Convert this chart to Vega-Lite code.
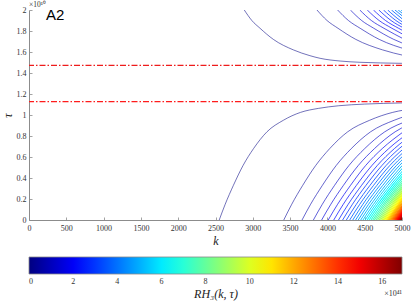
{
"$schema":"https://vega.github.io/schema/vega-lite/v6.json",
"width":373,"height":210,
"autosize":{"type":"none"},
"padding":{"left":29,"top":10,"right":9,"bottom":83},
"background":"white",
"config":{"view":{"stroke":null},"axis":{"labelOverlap":false,"labelFlush":false,"grid":false}},
"layer":[
{"data":{"values":[
{"c":"L0","k":2550,"t":0,"v":0.02},{"c":"L0","k":2630,"t":0.15,"v":0.02},{"c":"L0","k":2740,"t":0.33,"v":0.02},{"c":"L0","k":2870,"t":0.52,"v":0.02},{"c":"L0","k":3010,"t":0.68,"v":0.02},{"c":"L0","k":3190,"t":0.84,"v":0.02},{"c":"L0","k":3410,"t":0.95,"v":0.02},{"c":"L0","k":3640,"t":1.025,"v":0.02},{"c":"L0","k":3880,"t":1.063,"v":0.02},{"c":"L0","k":4150,"t":1.088,"v":0.02},{"c":"L0","k":4500,"t":1.104,"v":0.02},{"c":"L0","k":5000,"t":1.115,"v":0.02},{"c":"L0","k":5100,"t":1.117,"v":0.02},
{"c":"L1","k":3415,"t":0,"v":0.368},{"c":"L1","k":3522,"t":0.15,"v":0.368},{"c":"L1","k":3669,"t":0.33,"v":0.368},{"c":"L1","k":3844,"t":0.52,"v":0.368},{"c":"L1","k":4031,"t":0.68,"v":0.368},{"c":"L1","k":4272,"t":0.84,"v":0.368},{"c":"L1","k":4567,"t":0.95,"v":0.368},{"c":"L1","k":4875,"t":1.025,"v":0.368},{"c":"L1","k":5196,"t":1.063,"v":0.368},
{"c":"L2","k":3660,"t":0,"v":0.736},{"c":"L2","k":3775,"t":0.15,"v":0.736},{"c":"L2","k":3933,"t":0.33,"v":0.736},{"c":"L2","k":4119,"t":0.52,"v":0.736},{"c":"L2","k":4320,"t":0.68,"v":0.736},{"c":"L2","k":4579,"t":0.84,"v":0.736},{"c":"L2","k":4895,"t":0.95,"v":0.736},{"c":"L2","k":5225,"t":1.025,"v":0.736},
{"c":"L3","k":3812,"t":0,"v":1.104},{"c":"L3","k":3932,"t":0.15,"v":1.104},{"c":"L3","k":4096,"t":0.33,"v":1.104},{"c":"L3","k":4290,"t":0.52,"v":1.104},{"c":"L3","k":4500,"t":0.68,"v":1.104},{"c":"L3","k":4769,"t":0.84,"v":1.104},{"c":"L3","k":5098,"t":0.95,"v":1.104},
{"c":"L4","k":3923,"t":0,"v":1.472},{"c":"L4","k":4046,"t":0.15,"v":1.472},{"c":"L4","k":4215,"t":0.33,"v":1.472},{"c":"L4","k":4415,"t":0.52,"v":1.472},{"c":"L4","k":4631,"t":0.68,"v":1.472},{"c":"L4","k":4908,"t":0.84,"v":1.472},{"c":"L4","k":5246,"t":0.95,"v":1.472},
{"c":"L5","k":4011,"t":0,"v":1.84},{"c":"L5","k":4137,"t":0.15,"v":1.84},{"c":"L5","k":4310,"t":0.33,"v":1.84},{"c":"L5","k":4514,"t":0.52,"v":1.84},{"c":"L5","k":4735,"t":0.68,"v":1.84},{"c":"L5","k":5018,"t":0.84,"v":1.84},
{"c":"L6","k":4085,"t":0,"v":2.208},{"c":"L6","k":4213,"t":0.15,"v":2.208},{"c":"L6","k":4389,"t":0.33,"v":2.208},{"c":"L6","k":4598,"t":0.52,"v":2.208},{"c":"L6","k":4822,"t":0.68,"v":2.208},{"c":"L6","k":5110,"t":0.84,"v":2.208},
{"c":"L7","k":4149,"t":0,"v":2.576},{"c":"L7","k":4279,"t":0.15,"v":2.576},{"c":"L7","k":4458,"t":0.33,"v":2.576},{"c":"L7","k":4670,"t":0.52,"v":2.576},{"c":"L7","k":4898,"t":0.68,"v":2.576},{"c":"L7","k":5190,"t":0.84,"v":2.576},
{"c":"L8","k":4204,"t":0,"v":2.944},{"c":"L8","k":4336,"t":0.15,"v":2.944},{"c":"L8","k":4517,"t":0.33,"v":2.944},{"c":"L8","k":4732,"t":0.52,"v":2.944},{"c":"L8","k":4962,"t":0.68,"v":2.944},{"c":"L8","k":5259,"t":0.84,"v":2.944},
{"c":"L9","k":4254,"t":0,"v":3.312},{"c":"L9","k":4388,"t":0.15,"v":3.312},{"c":"L9","k":4571,"t":0.33,"v":3.312},{"c":"L9","k":4788,"t":0.52,"v":3.312},{"c":"L9","k":5021,"t":0.68,"v":3.312},
{"c":"L10","k":4299,"t":0,"v":3.68},{"c":"L10","k":4434,"t":0.15,"v":3.68},{"c":"L10","k":4619,"t":0.33,"v":3.68},{"c":"L10","k":4838,"t":0.52,"v":3.68},{"c":"L10","k":5075,"t":0.68,"v":3.68},
{"c":"L11","k":4340,"t":0,"v":4.048},{"c":"L11","k":4476,"t":0.15,"v":4.048},{"c":"L11","k":4663,"t":0.33,"v":4.048},{"c":"L11","k":4885,"t":0.52,"v":4.048},{"c":"L11","k":5123,"t":0.68,"v":4.048},
{"c":"L12","k":4378,"t":0,"v":4.416},{"c":"L12","k":4515,"t":0.15,"v":4.416},{"c":"L12","k":4704,"t":0.33,"v":4.416},{"c":"L12","k":4927,"t":0.52,"v":4.416},{"c":"L12","k":5168,"t":0.68,"v":4.416},
{"c":"L13","k":4413,"t":0,"v":4.784},{"c":"L13","k":4552,"t":0.15,"v":4.784},{"c":"L13","k":4742,"t":0.33,"v":4.784},{"c":"L13","k":4967,"t":0.52,"v":4.784},{"c":"L13","k":5209,"t":0.68,"v":4.784},
{"c":"L14","k":4446,"t":0,"v":5.152},{"c":"L14","k":4586,"t":0.15,"v":5.152},{"c":"L14","k":4777,"t":0.33,"v":5.152},{"c":"L14","k":5004,"t":0.52,"v":5.152},
{"c":"L15","k":4477,"t":0,"v":5.52},{"c":"L15","k":4618,"t":0.15,"v":5.52},{"c":"L15","k":4810,"t":0.33,"v":5.52},{"c":"L15","k":5039,"t":0.52,"v":5.52},
{"c":"L16","k":4506,"t":0,"v":5.888},{"c":"L16","k":4647,"t":0.15,"v":5.888},{"c":"L16","k":4842,"t":0.33,"v":5.888},{"c":"L16","k":5072,"t":0.52,"v":5.888},
{"c":"L17","k":4533,"t":0,"v":6.256},{"c":"L17","k":4675,"t":0.15,"v":6.256},{"c":"L17","k":4871,"t":0.33,"v":6.256},{"c":"L17","k":5102,"t":0.52,"v":6.256},
{"c":"L18","k":4559,"t":0,"v":6.624},{"c":"L18","k":4702,"t":0.15,"v":6.624},{"c":"L18","k":4899,"t":0.33,"v":6.624},{"c":"L18","k":5131,"t":0.52,"v":6.624},
{"c":"L19","k":4584,"t":0,"v":6.992},{"c":"L19","k":4728,"t":0.15,"v":6.992},{"c":"L19","k":4925,"t":0.33,"v":6.992},{"c":"L19","k":5159,"t":0.52,"v":6.992},
{"c":"L20","k":4608,"t":0,"v":7.36},{"c":"L20","k":4753,"t":0.15,"v":7.36},{"c":"L20","k":4951,"t":0.33,"v":7.36},{"c":"L20","k":5186,"t":0.52,"v":7.36},
{"c":"L21","k":4630,"t":0,"v":7.728},{"c":"L21","k":4775,"t":0.15,"v":7.728},{"c":"L21","k":4975,"t":0.33,"v":7.728},{"c":"L21","k":5211,"t":0.52,"v":7.728},
{"c":"L22","k":4652,"t":0,"v":8.096},{"c":"L22","k":4798,"t":0.15,"v":8.096},{"c":"L22","k":4999,"t":0.33,"v":8.096},{"c":"L22","k":5236,"t":0.52,"v":8.096},
{"c":"L23","k":4673,"t":0,"v":8.464},{"c":"L23","k":4820,"t":0.15,"v":8.464},{"c":"L23","k":5021,"t":0.33,"v":8.464},
{"c":"L24","k":4693,"t":0,"v":8.832},{"c":"L24","k":4840,"t":0.15,"v":8.832},{"c":"L24","k":5043,"t":0.33,"v":8.832},
{"c":"L25","k":4712,"t":0,"v":9.2},{"c":"L25","k":4860,"t":0.15,"v":9.2},{"c":"L25","k":5063,"t":0.33,"v":9.2},
{"c":"L26","k":4730,"t":0,"v":9.568},{"c":"L26","k":4879,"t":0.15,"v":9.568},{"c":"L26","k":5082,"t":0.33,"v":9.568},
{"c":"L27","k":4748,"t":0,"v":9.936},{"c":"L27","k":4897,"t":0.15,"v":9.936},{"c":"L27","k":5102,"t":0.33,"v":9.936},
{"c":"L28","k":4765,"t":0,"v":10.304},{"c":"L28","k":4915,"t":0.15,"v":10.304},{"c":"L28","k":5120,"t":0.33,"v":10.304},
{"c":"L29","k":4782,"t":0,"v":10.672},{"c":"L29","k":4932,"t":0.15,"v":10.672},{"c":"L29","k":5138,"t":0.33,"v":10.672},
{"c":"L30","k":4798,"t":0,"v":11.04},{"c":"L30","k":4949,"t":0.15,"v":11.04},{"c":"L30","k":5155,"t":0.33,"v":11.04},
{"c":"L31","k":4813,"t":0,"v":11.408},{"c":"L31","k":4964,"t":0.15,"v":11.408},{"c":"L31","k":5171,"t":0.33,"v":11.408},
{"c":"L32","k":4829,"t":0,"v":11.776},{"c":"L32","k":4981,"t":0.15,"v":11.776},{"c":"L32","k":5189,"t":0.33,"v":11.776},
{"c":"L33","k":4845,"t":0,"v":12.144},{"c":"L33","k":4997,"t":0.15,"v":12.144},{"c":"L33","k":5206,"t":0.33,"v":12.144},
{"c":"L34","k":4859,"t":0,"v":12.512},{"c":"L34","k":5012,"t":0.15,"v":12.512},
{"c":"L35","k":4873,"t":0,"v":12.88},{"c":"L35","k":5026,"t":0.15,"v":12.88},
{"c":"L36","k":4887,"t":0,"v":13.248},{"c":"L36","k":5040,"t":0.15,"v":13.248},
{"c":"L37","k":4900,"t":0,"v":13.616},{"c":"L37","k":5054,"t":0.15,"v":13.616},
{"c":"L38","k":4913,"t":0,"v":13.984},{"c":"L38","k":5067,"t":0.15,"v":13.984},
{"c":"L39","k":4926,"t":0,"v":14.352},{"c":"L39","k":5081,"t":0.15,"v":14.352},
{"c":"L40","k":4938,"t":0,"v":14.72},{"c":"L40","k":5093,"t":0.15,"v":14.72},
{"c":"L41","k":4950,"t":0,"v":15.088},{"c":"L41","k":5106,"t":0.15,"v":15.088},
{"c":"L42","k":4962,"t":0,"v":15.456},{"c":"L42","k":5118,"t":0.15,"v":15.456},
{"c":"L43","k":4973,"t":0,"v":15.824},{"c":"L43","k":5129,"t":0.15,"v":15.824},
{"c":"L44","k":4985,"t":0,"v":16.192},{"c":"L44","k":5142,"t":0.15,"v":16.192},
{"c":"L45","k":4995,"t":0,"v":16.56},{"c":"L45","k":5152,"t":0.15,"v":16.56},
{"c":"U0","k":2886,"t":2.0,"v":0.02},{"c":"U0","k":2987,"t":1.9,"v":0.02},{"c":"U0","k":3097,"t":1.826,"v":0.02},{"c":"U0","k":3276,"t":1.72,"v":0.02},{"c":"U0","k":3544,"t":1.62,"v":0.02},{"c":"U0","k":3766,"t":1.565,"v":0.02},{"c":"U0","k":3902,"t":1.54,"v":0.02},{"c":"U0","k":4170,"t":1.514,"v":0.02},{"c":"U0","k":4436,"t":1.502,"v":0.02},{"c":"U0","k":4996,"t":1.492,"v":0.02},{"c":"U0","k":5100,"t":1.49,"v":0.02},
{"c":"U1","k":3860,"t":2.0,"v":0.368},{"c":"U1","k":3995,"t":1.9,"v":0.368},{"c":"U1","k":4142,"t":1.826,"v":0.368},{"c":"U1","k":4381,"t":1.72,"v":0.368},{"c":"U1","k":4740,"t":1.62,"v":0.368},{"c":"U1","k":5037,"t":1.565,"v":0.368},
{"c":"U2","k":4137,"t":2.0,"v":0.736},{"c":"U2","k":4282,"t":1.9,"v":0.736},{"c":"U2","k":4439,"t":1.826,"v":0.736},{"c":"U2","k":4695,"t":1.72,"v":0.736},{"c":"U2","k":5080,"t":1.62,"v":0.736},
{"c":"U3","k":4308,"t":2.0,"v":1.104},{"c":"U3","k":4459,"t":1.9,"v":1.104},{"c":"U3","k":4622,"t":1.826,"v":1.104},{"c":"U3","k":4890,"t":1.72,"v":1.104},{"c":"U3","k":5290,"t":1.62,"v":1.104},
{"c":"U4","k":4434,"t":2.0,"v":1.472},{"c":"U4","k":4589,"t":1.9,"v":1.472},{"c":"U4","k":4758,"t":1.826,"v":1.472},{"c":"U4","k":5033,"t":1.72,"v":1.472},
{"c":"U5","k":4534,"t":2.0,"v":1.84},{"c":"U5","k":4693,"t":1.9,"v":1.84},{"c":"U5","k":4865,"t":1.826,"v":1.84},{"c":"U5","k":5146,"t":1.72,"v":1.84},
{"c":"U6","k":4617,"t":2.0,"v":2.208},{"c":"U6","k":4779,"t":1.9,"v":2.208},{"c":"U6","k":4954,"t":1.826,"v":2.208},{"c":"U6","k":5240,"t":1.72,"v":2.208},
{"c":"U7","k":4689,"t":2.0,"v":2.576},{"c":"U7","k":4853,"t":1.9,"v":2.576},{"c":"U7","k":5031,"t":1.826,"v":2.576},
{"c":"U8","k":4752,"t":2.0,"v":2.944},{"c":"U8","k":4918,"t":1.9,"v":2.944},{"c":"U8","k":5099,"t":1.826,"v":2.944},
{"c":"U9","k":4808,"t":2.0,"v":3.312},{"c":"U9","k":4976,"t":1.9,"v":3.312},{"c":"U9","k":5159,"t":1.826,"v":3.312},
{"c":"U10","k":4859,"t":2.0,"v":3.68},{"c":"U10","k":5029,"t":1.9,"v":3.68},
{"c":"U11","k":4906,"t":2.0,"v":4.048},{"c":"U11","k":5078,"t":1.9,"v":4.048},
{"c":"U12","k":4949,"t":2.0,"v":4.416},{"c":"U12","k":5122,"t":1.9,"v":4.416},
{"c":"U13","k":4988,"t":2.0,"v":4.784},{"c":"U13","k":5163,"t":1.9,"v":4.784}
]},
 "mark":{"type":"line","clip":true,"interpolate":"monotone"},
 "encoding":{
  "x":{"field":"k","type":"quantitative","scale":{"domain":[0,5000],"nice":false,"zero":false},
   "axis":{"values":[0,500,1000,1500,2000,2500,3000,3500,4000,4500,5000],"tickCount":11,"format":"d","tickSize":-3,"tickWidth":0.8,"labelPadding":7,"labelOverlap":false,"domainColor":"#8c8c8c","tickColor":"#8c8c8c","labelFont":"Liberation Serif","labelFontSize":8,"labelColor":"#333333","title":"k","titleFont":"Liberation Serif","titleFontStyle":"italic","titleFontWeight":"normal","titleFontSize":12,"titleColor":"#222222","titlePadding":3}},
  "y":{"field":"t","type":"quantitative","scale":{"domain":[0,2],"nice":false,"zero":false},
   "axis":{"values":[0,0.2,0.4,0.6,0.8,1,1.2,1.4,1.6,1.8,2],"tickCount":11,"format":"~g","tickSize":-3,"tickWidth":0.8,"labelPadding":6,"labelOverlap":false,"domainColor":"#8c8c8c","tickColor":"#8c8c8c","labelFont":"Liberation Serif","labelFontSize":8,"labelColor":"#333333","title":"τ","titleFont":"Liberation Serif","titleFontStyle":"italic","titleFontWeight":"normal","titleFontSize":12,"titleColor":"#222222","titlePadding":2}},
  "detail":{"field":"c","type":"nominal"},
  "order":{"field":"k","type":"quantitative"},
  "strokeWidth":{"field":"v","type":"quantitative","scale":{"domain":[0,6,16.9],"range":[0.55,1.0,1.5]},"legend":null},
  "color":{"field":"v","type":"quantitative",
   "scale":{"domain":[0,2.1125,6.3375,10.5625,14.7875,16.9],"range":["#000080","#0000ff","#00ffff","#ffff00","#ff0000","#800000"],"interpolate":"rgb"},
   "legend":{"orient":"none","legendX":0,"legendY":247,"direction":"horizontal","gradientLength":373,"gradientThickness":17,"values":[0,2,4,6,8,10,12,14,16],"title":"RH₃(k, τ)","titleOrient":"bottom","titleAnchor":"middle","titleFont":"Liberation Serif","titleFontStyle":"italic","titleFontWeight":"normal","titleFontSize":12,"titleColor":"#222222","titlePadding":3,"labelFont":"Liberation Serif","labelFontSize":8,"labelColor":"#333333","labelOffset":4,"labelAlign":"center","labelOverlap":false,"gradientStrokeColor":"#888888","gradientStrokeWidth":0.8}}
 }},
{"data":{"values":[{}]},"mark":{"type":"rule","color":"#ee1c1c","strokeWidth":1.2,"strokeDash":[6,2,1.5,2]},"encoding":{"y":{"datum":1.473}}},
{"data":{"values":[{}]},"mark":{"type":"rule","color":"#ff1c1c","strokeWidth":1.2,"strokeDash":[6,2,1.5,2]},"encoding":{"y":{"datum":1.127}}},
{"data":{"values":[{}]},"mark":{"type":"text","text":"A2","font":"Liberation Sans","fontSize":15,"align":"left","baseline":"alphabetic","color":"#000000"},"encoding":{"x":{"datum":228},"y":{"datum":1.905}}},
{"data":{"values":[{}]},"mark":{"type":"text","text":"×10¹⁰","font":"Liberation Serif","fontSize":7.5,"align":"left","baseline":"middle","color":"#333333"},"encoding":{"x":{"datum":0},"y":{"datum":2.05}}},
{"data":{"values":[{}]},"mark":{"type":"text","text":"×10⁴¹","font":"Liberation Serif","fontSize":8,"align":"right","baseline":"middle","color":"#333333"},"encoding":{"x":{"datum":5000},"y":{"datum":-0.70}}}
]
}
